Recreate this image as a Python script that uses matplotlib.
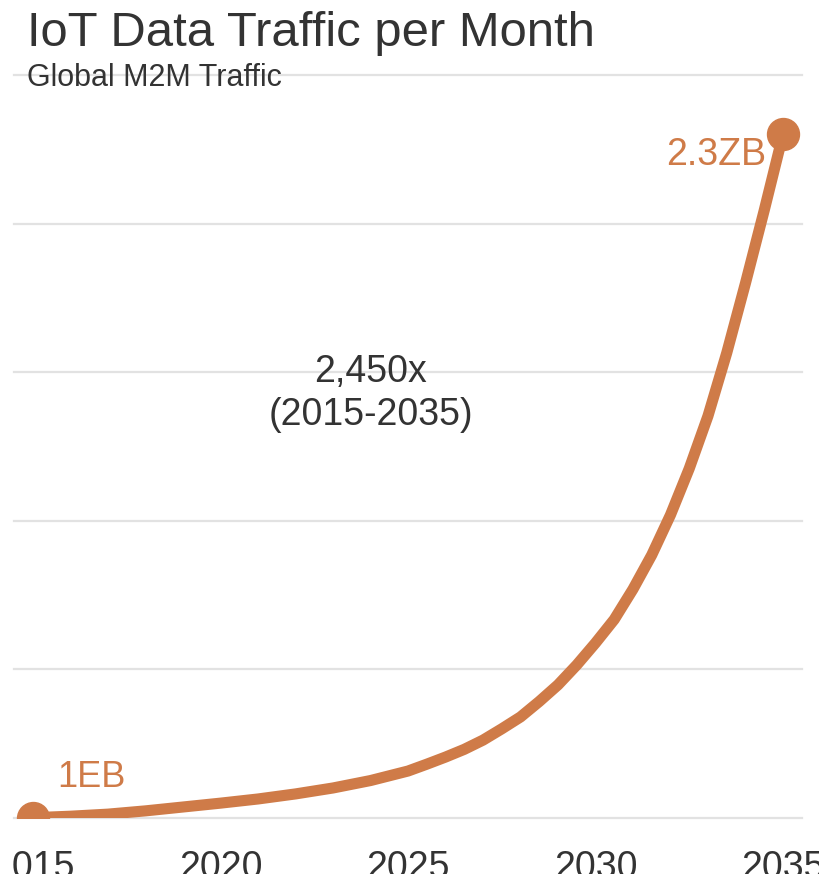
import matplotlib
matplotlib.use("Agg")
import matplotlib.pyplot as plt
from matplotlib.transforms import Bbox

# Data (monthly M2M traffic, in EB)
years = [2015, 2016, 2017, 2018, 2019, 2020, 2021, 2022, 2023, 2024, 2025,
         2025.5, 2026, 2026.5, 2027, 2027.5, 2028, 2028.5, 2029, 2029.5,
         2030, 2030.5, 2031, 2031.5, 2032, 2032.5, 2033, 2033.5, 2034,
         2034.5, 2035]
traffic_eb = [1, 6, 13, 24, 37, 50, 64, 81, 101, 126, 158,
              181, 205, 231, 262, 300, 340, 392, 448, 515,
              589, 668, 770, 885, 1020, 1176, 1353, 1565, 1800,
              2045, 2300]
x_ticks = [2015, 2020, 2025, 2030, 2035]
y_grid = [0, 500, 1000, 1500, 2000, 2500]

title = "IoT Data Traffic per Month"
subtitle = "Global M2M Traffic"
growth_text = "2,450x\n(2015-2035)"
start_label = "1EB"
end_label = "2.3ZB"

ORANGE = "#CF7B48"
DARK = "#333333"
GRID = "#E2E2E2"

plt.rcParams['font.family'] = ['Liberation Sans', 'DejaVu Sans']

W, H = 819, 874
fig = plt.figure(figsize=(W / 100, H / 100), dpi=100)
ax = fig.add_axes([14 / W, (H - 818) / H, (802 - 14) / W, (818 - 75) / H])

ax.set_xlim(2015 - 19 / 37.5, 2035 + 19 / 37.5)
ax.set_ylim(y_grid[0], y_grid[-1])

for v in y_grid:
    ax.axhline(v, color=GRID, lw=1.6, zorder=0, clip_on=False)

ax.plot(years, traffic_eb, color=ORANGE, lw=8, solid_capstyle='round',
        solid_joinstyle='round', zorder=3)
ax.plot([years[0], years[-1]], [traffic_eb[0], traffic_eb[-1]], 'o',
        color=ORANGE, ms=23, zorder=4)

for s in ax.spines.values():
    s.set_visible(False)
ax.set_yticks([])
ax.set_xticks(x_ticks)
ax.set_xticklabels([str(t) for t in x_ticks])
ax.tick_params(axis='x', length=0, pad=23, labelsize=27, labelcolor=DARK)
clip = Bbox([[13, 0], [W, H]])
for lbl in ax.get_xticklabels():
    lbl.set_clip_on(True)
    lbl.set_clip_box(clip)

ax.text(2024.0, 1427, growth_text, ha='center', va='center', fontsize=27,
        color=DARK, linespacing=1.25, zorder=5)
ax.text(years[-1] - 0.45, 2232, end_label, ha='right', va='center',
        fontsize=27, color=ORANGE, zorder=5)
ax.text(years[0] + 0.64, 135, start_label, ha='left', va='center',
        fontsize=26, color=ORANGE, zorder=5)

fig.text(27 / W, 1 - 33 / H, title, ha='left', va='center', fontsize=35.3,
         color=DARK)
fig.text(27 / W, 1 - 78 / H, subtitle, ha='left', va='center', fontsize=22,
         color=DARK, zorder=10)

fig.savefig("out.png", dpi=100, facecolor='white')
